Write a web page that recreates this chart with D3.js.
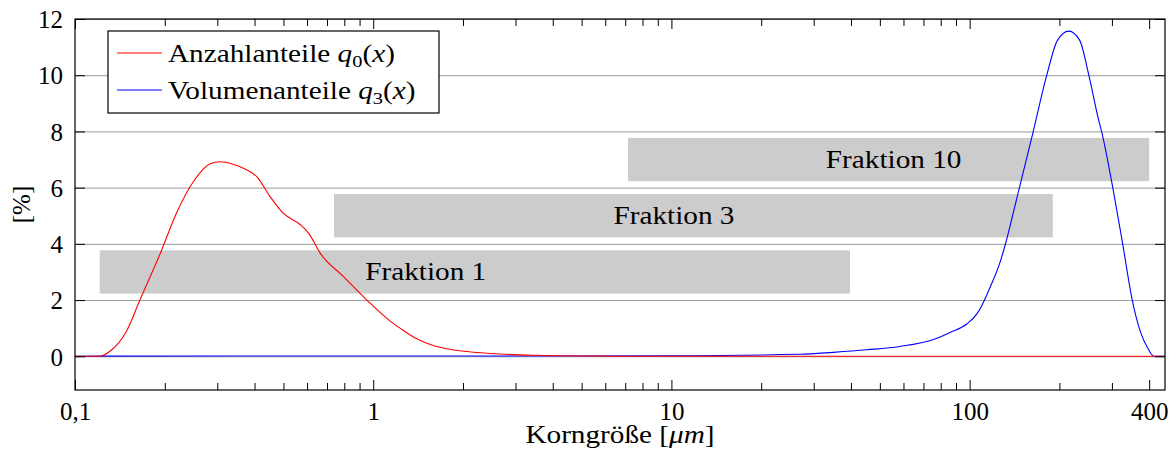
<!DOCTYPE html>
<html><head><meta charset="utf-8">
<script src="https://cdn.jsdelivr.net/npm/d3@7"></script>
<style>
body{margin:0;background:#fff}
text{font-family:"Liberation Serif",serif;fill:#000}
</style>
</head><body><svg id="c" width="1176" height="452"></svg>
<script>
// ---- data ----
const q0X = [0.1,0.12,0.131,0.149,0.165,0.193,0.219,0.249,0.284,0.307,0.335,0.367,0.407,0.451,0.499,0.57,0.607,0.664,0.794,0.952,1.14,1.23,1.4,1.59,1.8,2.06,2.67,3.47,5,10,50,100,452];
const q0Y = [0,0,0.18,0.9,2.0,3.65,5.1,6.2,6.85,6.92,6.85,6.69,6.39,5.68,5.09,4.68,4.38,3.67,2.84,2.0,1.25,1.0,0.62,0.38,0.25,0.17,0.08,0.035,0.01,0,0,0,0];
const q3X = [0.1,0.12,1,3,10,27,34.9,45.2,58.4,75.6,86,97.8,105.6,109.8,117.1,126.5,131.5,145.3,163,181.4,197,215,234,251,270,277,302,326,351,375,395,415,452];
const q3Y = [0,0.005,0.01,0.01,0.02,0.07,0.14,0.23,0.35,0.6,0.85,1.15,1.5,1.8,2.45,3.35,3.95,5.8,7.95,10,11.24,11.57,11.24,10,8.46,8,6,4,2,0.83,0.3,0,0];
const fracNames = ["Fraktion 1","Fraktion 3","Fraktion 10"];
const fracFrom = [0.121,0.739,7.15];
const fracTo = [39.7,190,400];
const fracLevel = [3,5,7];
const fracHalf = 0.77;
const fracLabelX = [1.5,10.2,55.6];
const xTickValues = [0.1,1,10,100,400];
const xTickLabels = ["0,1","1","10","100","400"];
const yTickValues = [0,2,4,6,8,10,12];

// ---- layout ----
const L=75,R=1165,T=19,B=390;
const SX=1.17; // horizontal widening of word labels
const svg=d3.select("#c");
const x=d3.scaleLog().domain([0.1,452]).range([L,R]);
const y=d3.scaleLinear().domain([-1.2,12]).range([B,T]);
const FS=25;

const minor=[];
[0.1,1,10,100].forEach(d=>{for(let k=2;k<=9;k++){const v=+(d*k).toPrecision(3); if(v<452 && !xTickValues.includes(v)) minor.push(v);}});

// gridlines
svg.append("g").attr("transform",`translate(${L},0)`)
  .call(d3.axisLeft(y).tickValues(yTickValues).tickSize(-(R-L)).tickFormat(""))
  .call(g=>g.select(".domain").remove())
  .call(g=>g.selectAll("line").attr("stroke","#9a9a9a").attr("stroke-width",1));

// fraction boxes
const fr=svg.append("g");
fracNames.forEach((n,i)=>{
  fr.append("rect").attr("x",x(fracFrom[i])).attr("width",x(fracTo[i])-x(fracFrom[i]))
    .attr("y",y(fracLevel[i]+fracHalf)).attr("height",y(fracLevel[i]-fracHalf)-y(fracLevel[i]+fracHalf))
    .attr("fill","#cccccc");
  fr.append("text").attr("transform",`translate(${x(fracLabelX[i])},${y(fracLevel[i])+8.5}) scale(${SX},1)`)
    .attr("text-anchor","middle").attr("font-size",FS).text(n);
});

// curves
const line=(xs,ys)=>d3.line().x((d,i)=>x(xs[i])).y((d,i)=>y(ys[i])).curve(d3.curveMonotoneX)(xs);
svg.append("path").attr("d",line(q3X,q3Y)).attr("fill","none").attr("stroke","#0000ff").attr("stroke-width",1.1);
svg.append("path").attr("d",line(q0X,q0Y)).attr("fill","none").attr("stroke","#ff0000").attr("stroke-width",1.1);

// axes
function style(g){g.selectAll(".domain").remove();g.selectAll("line").attr("stroke","#000");g.selectAll("text").attr("font-size",FS).attr("font-family","Liberation Serif, serif");}
svg.append("g").attr("transform",`translate(0,${B})`)
  .call(d3.axisBottom(x).tickValues(xTickValues).tickFormat((d,i)=>xTickLabels[i]).tickSizeInner(-10).tickSizeOuter(0).tickPadding(12)).call(style);
svg.append("g").attr("transform",`translate(0,${B})`)
  .call(d3.axisBottom(x).tickValues(minor).tickFormat("").tickSizeInner(-7).tickSizeOuter(0)).call(style);
svg.append("g").attr("transform",`translate(0,${T})`)
  .call(d3.axisTop(x).tickValues(xTickValues).tickFormat("").tickSizeInner(-10).tickSizeOuter(0)).call(style);
svg.append("g").attr("transform",`translate(0,${T})`)
  .call(d3.axisTop(x).tickValues(minor).tickFormat("").tickSizeInner(-7).tickSizeOuter(0)).call(style);
svg.append("g").attr("transform",`translate(${L},0)`)
  .call(d3.axisLeft(y).tickValues(yTickValues).tickFormat(d3.format("d")).tickSizeInner(-10).tickSizeOuter(0).tickPadding(12)).call(style)
  .selectAll("text").attr("dy","0.35em");
svg.append("g").attr("transform",`translate(${R},0)`)
  .call(d3.axisRight(y).tickValues(yTickValues).tickFormat("").tickSizeInner(-10).tickSizeOuter(0)).call(style);

// frame
svg.append("rect").attr("x",L).attr("y",T).attr("width",R-L).attr("height",B-T)
  .attr("fill","none").attr("stroke","#000").attr("stroke-width",1.2);

// axis titles
const xt=svg.append("text").attr("transform",`translate(${(L+R)/2},443) scale(${SX},1)`).attr("text-anchor","middle").attr("font-size",FS);
xt.append("tspan").text("Korngröße [");
xt.append("tspan").attr("font-style","italic").text("μm");
xt.append("tspan").text("]");
svg.append("text").attr("transform",`translate(30,${(T+B)/2}) rotate(-90)`).attr("text-anchor","middle").attr("font-size",FS).text("[%]");

// legend
const lg=svg.append("g");
lg.append("rect").attr("x",108).attr("y",31).attr("width",331).attr("height",82).attr("fill","#fff").attr("stroke","#000").attr("stroke-width",1.2);
const entries=[{name:"Anzahlanteile ",sub:"0",color:"#ff0000",yy:53},{name:"Volumenanteile ",sub:"3",color:"#0000ff",yy:90}];
entries.forEach(e=>{
  lg.append("line").attr("x1",117).attr("x2",162).attr("y1",e.yy).attr("y2",e.yy).attr("stroke",e.color).attr("stroke-width",1.1);
  const t=lg.append("text").attr("transform",`translate(168,${e.yy+8.5}) scale(${SX},1)`).attr("font-size",FS);
  t.append("tspan").text(e.name);
  t.append("tspan").attr("font-style","italic").text("q");
  t.append("tspan").attr("font-size",FS*0.7).attr("dy",5).text(e.sub);
  t.append("tspan").attr("dy",-5).text("(");
  t.append("tspan").attr("font-style","italic").text("x");
  t.append("tspan").text(")");
});
</script>
</body></html>
